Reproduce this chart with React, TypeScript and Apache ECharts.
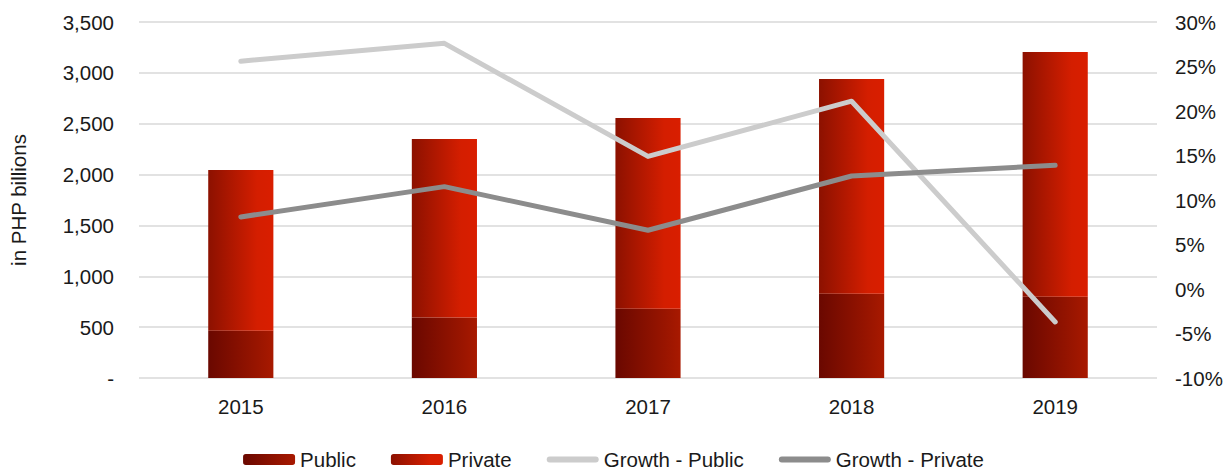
import React, { useEffect, useRef } from "react";
import * as echarts from "echarts";

const years = ["2015", "2016", "2017", "2018", "2019"];
const publicVals = [465, 595, 680, 828, 800];
const privateVals = [1580, 1755, 1877, 2112, 2405];
const growthPublic = [25.6, 27.6, 14.9, 21.1, -3.7];
const growthPrivate = [8.1, 11.5, 6.6, 12.7, 13.9];

const FONT = "'Liberation Sans', Arial, sans-serif";
const LINE_ICON = "path://M3,0 L49,0 A3,3 0 0 1 49,6 L3,6 A3,3 0 0 1 3,0 Z";

export default function App() {
  const ref = useRef<HTMLDivElement>(null);
  useEffect(() => {
    if (!ref.current) return;
    const chart = echarts.init(ref.current, null, { renderer: "svg" });
    const pubGrad = new echarts.graphic.LinearGradient(0, 0, 1, 0, [
      { offset: 0, color: "#6a0800" },
      { offset: 1, color: "#a81900" },
    ]);
    const privGrad = new echarts.graphic.LinearGradient(0, 0, 1, 0, [
      { offset: 0, color: "#8c1100" },
      { offset: 0.75, color: "#d41e00" },
      { offset: 1, color: "#d91e00" },
    ]);
    chart.setOption({
      animation: false,
      textStyle: { fontFamily: FONT },
      grid: { left: 138, right: 70, top: 22, bottom: 92 },
      legend: {
        left: "center",
        top: 444,
        itemWidth: 52,
        itemHeight: 11,
        itemGap: 35,
        symbolKeepAspect: true,
        textStyle: { fontSize: 20.5, color: "#1a1a1a", fontFamily: FONT },
        data: [
          { name: "Public" },
          { name: "Private" },
          { name: "Growth - Public", icon: LINE_ICON, itemStyle: { color: "#cccccc" } },
          { name: "Growth - Private", icon: LINE_ICON, itemStyle: { color: "#8c8c8c" } },
        ],
      },
      xAxis: {
        type: "category",
        data: years,
        axisLine: { show: false },
        axisTick: { show: false },
        axisLabel: { fontSize: 20.5, color: "#1a1a1a", margin: 18, fontFamily: FONT },
      },
      yAxis: [
        {
          type: "value",
          min: 0,
          max: 3500,
          interval: 500,
          name: "in PHP billions",
          nameLocation: "middle",
          nameRotate: 90,
          nameGap: 110,
          nameTextStyle: { fontSize: 20.5, color: "#1a1a1a", fontFamily: FONT },
          axisLine: { show: false },
          axisTick: { show: false },
          splitLine: { lineStyle: { color: "#d9d9d9", width: 1.5 } },
          axisLabel: {
            fontSize: 20.5,
            color: "#1a1a1a",
            margin: 25,
            fontFamily: FONT,
            formatter: (v: number) => (v === 0 ? "-" : v.toLocaleString("en-US")),
          },
        },
        {
          type: "value",
          min: -10,
          max: 30,
          interval: 5,
          axisLine: { show: false },
          axisTick: { show: false },
          splitLine: { show: false },
          axisLabel: {
            fontSize: 20.5,
            color: "#1a1a1a",
            margin: 18,
            fontFamily: FONT,
            formatter: (v: number) => v + "%",
          },
        },
      ],
      series: [
        {
          name: "Public",
          type: "bar",
          stack: "total",
          data: publicVals,
          barWidth: "32%",
          itemStyle: { color: pubGrad },
        },
        {
          name: "Private",
          type: "bar",
          stack: "total",
          data: privateVals,
          barWidth: "32%",
          itemStyle: { color: privGrad },
        },
        {
          name: "Growth - Public",
          type: "line",
          yAxisIndex: 1,
          data: growthPublic,
          symbol: "none",
          lineStyle: { color: "#cccccc", width: 5, cap: "round", join: "round" },
          itemStyle: { color: "#cccccc" },
        },
        {
          name: "Growth - Private",
          type: "line",
          yAxisIndex: 1,
          data: growthPrivate,
          symbol: "none",
          lineStyle: { color: "#8c8c8c", width: 5, cap: "round", join: "round" },
          itemStyle: { color: "#8c8c8c" },
        },
      ],
    });
    return () => chart.dispose();
  }, []);
  return (
    <div
      ref={ref}
      style={{ position: "fixed", left: 0, top: 0, width: 1227, height: 470, background: "#fff" }}
    />
  );
}
